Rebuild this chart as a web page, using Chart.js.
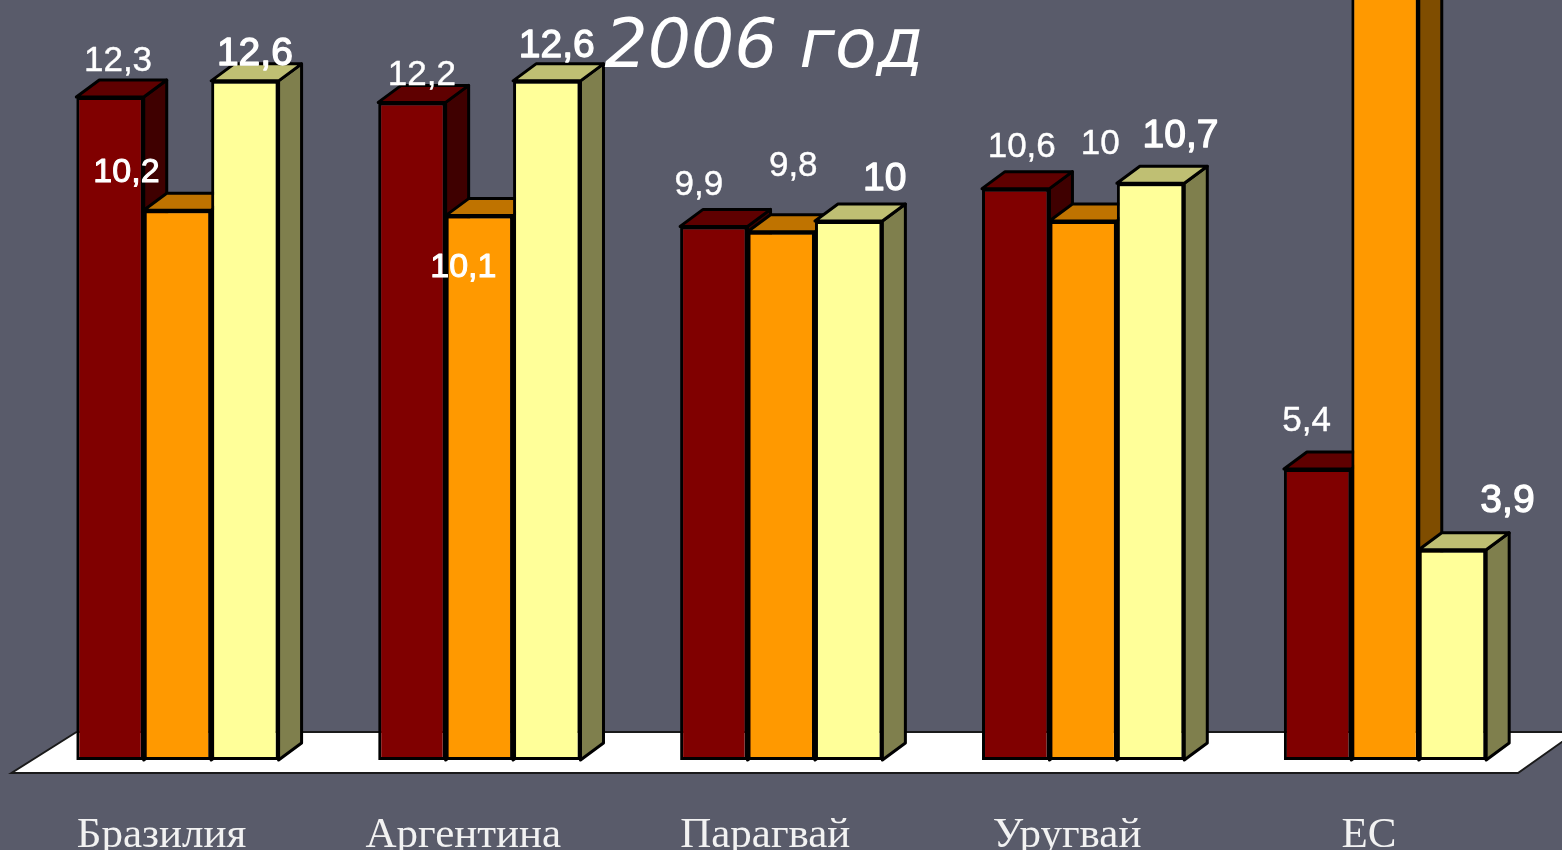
<!DOCTYPE html>
<html lang="ru">
<head>
<meta charset="utf-8">
<title>2006 год</title>
<script src="https://cdn.jsdelivr.net/npm/chart.js@4"></script>
<style>
    html, body { margin: 0; padding: 0; background: #595b6a; overflow: hidden; }
    #chartWrap { position: relative; width: 1562px; height: 850px; }
</style>
</head>
<body>
<div id="chartWrap"><canvas id="tradeChart"></canvas></div>
<script>
// ==============================
// Data
// ==============================
const categories = ["Бразилия", "Аргентина", "Парагвай", "Уругвай", "ЕС"];
const seriesA = [12.3, 12.2, 9.9, 10.6, 5.4];
const seriesB = [10.2, 10.1, 9.8, 10, 15];   // EU bar runs off the top, its height is a guess
const seriesC = [12.6, 12.6, 10, 10.7, 3.9];
const chartTitle = "2006 год";

// label placement relative to each bar top: [dx, dy, style index]
const labelsA = [[8, -26, 0], [10, -17, 0], [-15, -31, 0], [6, -32, 0], [-11, -38, 0]];
const labelsB = [[-51, -28, 2], [-16, 61, 2], [12, -56, 0], [17, -67, 0], null];
const labelsC = [[10, -16, 1], [10, -24, 1], [36, -31, 1], [30, -36, 1], [55, -38, 1]];

const labelStyles = [
    { size: 35, stroke: 0.4 },
    { size: 39, stroke: 1.3 },
    { size: 34, stroke: 1 }
];

const faces = [
    { front: "#800000", top: "#5f0000", side: "#3f0000", labels: labelsA },
    { front: "#ff9900", top: "#bf7300", side: "#7f4d00", labels: labelsB },
    { front: "#ffff99", top: "#bfbf73", side: "#7f7f4d", labels: labelsC }
];

const DEPTH_X = 23;
const DEPTH_Y = 17;

function polygon(ctx, points, fill, stroke, width) {
    ctx.beginPath();
    points.forEach((p, i) => i ? ctx.lineTo(p[0], p[1]) : ctx.moveTo(p[0], p[1]));
    ctx.closePath();
    ctx.fillStyle = fill;
    ctx.fill();
    if (stroke) {
        ctx.lineWidth = width;
        ctx.lineJoin = "round";
        ctx.strokeStyle = stroke;
        ctx.stroke();
    }
}

// ==============================
// 3D look: floor, bar sides, value labels
// ==============================
const boxPlugin = {
    id: "boxPlugin",
    beforeDatasetsDraw(chart) {
        let ctx = chart.ctx;
        let area = chart.chartArea;
        let base = chart.scales.y.getPixelForValue(0);

        // floor
        polygon(ctx, [
            [area.left + 50, base - 28],
            [area.right + 40, base - 28],
            [area.right - 18, base + 13],
            [area.left - 15, base + 13]
        ], "#ffffff", null, 0);
        ctx.strokeStyle = "#1a1a1a";
        ctx.lineWidth = 2;
        ctx.beginPath();
        ctx.moveTo(area.left + 50, base - 28);
        ctx.lineTo(area.left - 15, base + 13);
        ctx.lineTo(area.right - 18, base + 13);
        ctx.lineTo(area.right + 40, base - 28);
        ctx.moveTo(area.left + 50, base - 28);
        ctx.lineTo(area.right + 40, base - 28);
        ctx.stroke();

        // left to right, so every bar covers the sides of the one before it
        categories.forEach((name, i) => {
            faces.forEach((face, d) => {
                let bar = chart.getDatasetMeta(d).data[i];
                let half = bar.width / 2;
                let left = bar.x - half;
                let right = bar.x + half;
                polygon(ctx, [
                    [right, bar.y],
                    [right + DEPTH_X, bar.y - DEPTH_Y],
                    [right + DEPTH_X, base - DEPTH_Y],
                    [right, base]
                ], face.side, "#000000", 3);
                polygon(ctx, [
                    [left, bar.y],
                    [left + DEPTH_X, bar.y - DEPTH_Y],
                    [right + DEPTH_X, bar.y - DEPTH_Y],
                    [right, bar.y]
                ], face.top, "#000000", 3);
                bar.draw(ctx, area);
            });
        });
        return false;
    },
    afterDraw(chart) {
        let ctx = chart.ctx;
        ctx.save();
        ctx.fillStyle = "#ffffff";
        ctx.strokeStyle = "#ffffff";
        ctx.textAlign = "center";
        ctx.textBaseline = "alphabetic";

        faces.forEach((face, d) => {
            chart.getDatasetMeta(d).data.forEach((bar, i) => {
                let spot = face.labels[i];
                if (!spot) return;
                let style = labelStyles[spot[2]];
                let text = String(chart.data.datasets[d].data[i]).replace(".", ",");
                ctx.font = style.size + "px 'Liberation Sans'";
                ctx.lineWidth = style.stroke;
                ctx.fillText(text, bar.x + spot[0], bar.y + spot[1]);
                ctx.strokeText(text, bar.x + spot[0], bar.y + spot[1]);
            });
        });

        ctx.font = "italic 68px 'DejaVu Sans'";
        ctx.fillText(chartTitle, 764, 67);
        ctx.restore();
    }
};

// ==============================
// Chart
// ==============================
document.addEventListener("DOMContentLoaded", function () {
    let ctx = document.getElementById("tradeChart").getContext("2d");

    new Chart(ctx, {
        type: "bar",
        data: {
            labels: categories,
            datasets: [seriesA, seriesB, seriesC].map((values, d) => ({
                data: values,
                backgroundColor: faces[d].front,
                borderColor: "#000000",
                borderWidth: 3,
                borderSkipped: false,
                categoryPercentage: 0.67,
                barPercentage: 1
            }))
        },
        options: {
            responsive: true,
            maintainAspectRatio: false,
            animation: false,
            layout: { padding: { left: 26.5, right: 26, top: 0, bottom: 0 } },
            plugins: {
                legend: { display: false },
                title: { display: false },
                tooltip: { enabled: false }
            },
            scales: {
                y: {
                    display: false,
                    min: 0,
                    max: 14.1
                },
                x: {
                    afterFit: scale => { scale.height = 90; },
                    grid: { display: false },
                    border: { display: false },
                    ticks: {
                        color: "#f2f2f2",
                        font: { family: "'Liberation Serif'", size: 43 },
                        padding: 42,
                        labelOffset: -16,
                        maxRotation: 0,
                        autoSkip: false
                    }
                }
            }
        },
        plugins: [boxPlugin]
    });
});
</script>
</body>
</html>
